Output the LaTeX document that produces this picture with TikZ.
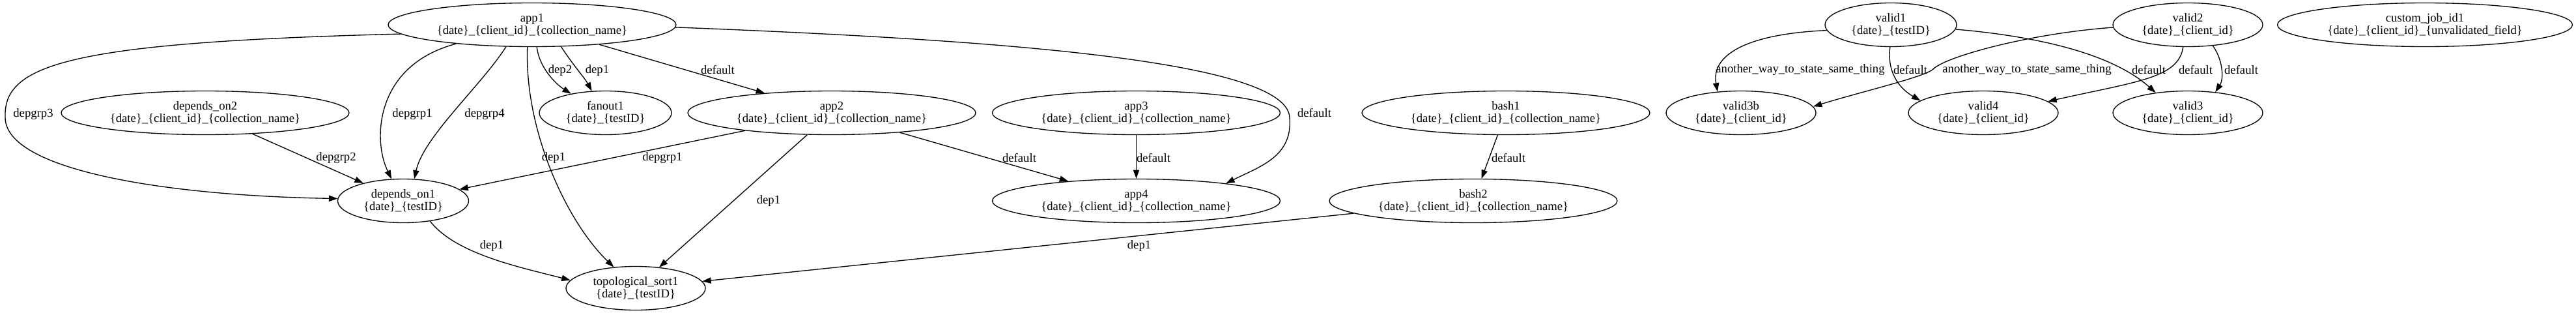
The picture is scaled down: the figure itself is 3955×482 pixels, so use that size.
\documentclass[tikz,border=0pt]{standalone}
\usepackage{fontspec}
\setmainfont{Liberation Serif}
\usetikzlibrary{shapes.geometric, arrows.meta}

\newcommand{\dcc}{\{date\}\_\{client\_id\}\_\{collection\_name\}}
\newcommand{\dtid}{\{date\}\_\{testID\}}
\newcommand{\dcid}{\{date\}\_\{client\_id\}}

\begin{document}
\begin{tikzpicture}[x=0.75pt, y=-0.75pt, font=\fontsize{14}{14}\selectfont,
		arr/.style={-{Triangle[length=10pt,width=7pt]}, line width=1pt},
		lbl/.style={inner sep=0pt}]
		\useasboundingbox (0,0) rectangle (3955,482);
		\begin{scope}[every node/.style={draw, ellipse, line width=1pt, inner sep=0pt, align=center, minimum height=50.25pt}]
		\node[minimum width=331.5pt] (app1) at (817,38) {app1\\\dcc};
		\node[minimum width=151.5pt] (valid1) at (2903,38) {valid1\\\dtid};
		\node[minimum width=172.5pt] (valid2) at (3359,38) {valid2\\\dcid};
		\node[minimum width=339.75pt] (customjob1) at (3723,38) {custom\_job\_id1\\\{date\}\_\{client\_id\}\_\{unvalidated\_field\}};
		
		\node[minimum width=331.5pt] (dependson2) at (315,173) {depends\_on2\\\dcc};
		\node[minimum width=152.25pt] (fanout1) at (929.5,173) {fanout1\\\dtid};
		\node[minimum width=331.5pt] (app2) at (1277,173) {app2\\\dcc};
		\node[minimum width=331.5pt] (app3) at (1744.5,173) {app3\\\dcc};
		\node[minimum width=331.5pt] (bash1) at (2312,173) {bash1\\\dcc};
		\node[minimum width=172.5pt] (valid3b) at (2673,173) {valid3b\\\dcid};
		\node[minimum width=172.5pt] (valid4) at (3045,173) {valid4\\\dcid};
		\node[minimum width=172.5pt] (valid3) at (3359,173) {valid3\\\dcid};
		
		\node[minimum width=150.75pt] (dependson1) at (619,308) {depends\_on1\\\dtid};
		\node[minimum width=331.5pt] (app4) at (1744.5,308) {app4\\\dcc};
		\node[minimum width=331.5pt] (bash2) at (2262,308) {bash2\\\dcc};
		
		\node[minimum width=160.5pt] (topsort1) at (976,442) {topological\_sort1\\\dtid};
		\end{scope}
		
		% edges out of app1
		\draw[arr] (app1.184) .. controls (100,65) and (5,100) .. (8,180) .. controls (8,260) and (250,300) .. (dependson1.178);
		\draw[arr] (app1.194) .. controls (575,100) and (572,215) .. (dependson1.118);
		\draw[arr] (app1.220) .. controls (740,130) and (650,210) .. (dependson1.63);
		\draw[arr] (app1.282) .. controls (828,105) and (855,130) .. (fanout1.151);
		\draw[arr] (app1.323) .. controls (880,100) and (898,120) .. (fanout1.122);
		\draw[arr] (app1.258) .. controls (805,200) and (870,340) .. (topsort1.136);
		\draw[arr] (app1) -- (app2);
		\draw[arr] (app1.359) .. controls (1500,60) and (1975,90) .. (1980,180) .. controls (1985,240) and (1935,255) .. (app4.11);
		
		\draw[arr] (dependson2) -- (dependson1);
		\draw[arr] (dependson1.323) .. controls (700,390) and (800,410) .. (topsort1.173);
		\draw[arr] (app2) -- (dependson1);
		\draw[arr] (app2) -- (topsort1);
		\draw[arr] (app2) -- (app4);
		\draw[arr] (app3) -- (app4);
		\draw[arr] (bash1) -- (bash2);
		\draw[arr] (bash2) -- (topsort1);
		
		% valid group
		\draw[arr] (valid1.185) .. controls (2680,52) and (2627,85) .. (valid3b.138);
		\draw[arr] (valid1.268) .. controls (2897,110) and (2915,135) .. (valid4.169);
		\draw[arr] (valid1.356) .. controls (3120,55) and (3240,80) .. (valid3.148);
		\draw[arr] (valid2.182) .. controls (3110,52) and (2985,88) .. (2968,106) .. controls (2955,118) and (2860,140) .. (valid3b.5);
		\draw[arr] (valid2.258) .. controls (3345,120) and (3280,125) .. (valid4.10);
		\draw[arr] (valid2.320) .. controls (3412,90) and (3415,120) .. (valid3.37);
		
		% edge labels
		\node[lbl] (lgrp3) at (51,175) {depgrp3};
		\node[lbl] (lgrp2) at (516,242) {depgrp2};
		\node[lbl] (lgrp1a) at (633,175) {depgrp1};
		\node[lbl] (lgrp4) at (744,175) {depgrp4};
		\node[lbl] (ldep2) at (860,108) {dep2};
		\node[lbl] (ldep1a) at (917,108) {dep1};
		\node[lbl] (ldep1b) at (850,242) {dep1};
		\node[lbl] (ldep1c) at (755,377) {dep1};
		\node[lbl] (lgrp1b) at (1017,242) {depgrp1};
		\node[lbl] (ldefa) at (1102,107) {default};
		\node[lbl] (ldep1d) at (1180,308) {dep1};
		\node[lbl] (ldefb) at (1565,242) {default};
		\node[lbl] (ldefc) at (1771,242) {default};
		\node[lbl] (ldefd) at (2018,173) {default};
		\node[lbl] (ldep1e) at (1749,377) {dep1};
		\node[lbl] (ldefe) at (2316,242) {default};
		\node[lbl] (lwaya) at (2764,107) {another\_way\_to\_state\_same\_thing};
		\node[lbl] (ldeff) at (2933,107) {default};
		\node[lbl] (lwayb) at (3112,107) {another\_way\_to\_state\_same\_thing};
		\node[lbl] (ldefg) at (3299,107) {default};
		\node[lbl] (ldefh) at (3371,107) {default};
		\node[lbl] (ldefi) at (3441,107) {default};
\end{tikzpicture}
\end{document}
